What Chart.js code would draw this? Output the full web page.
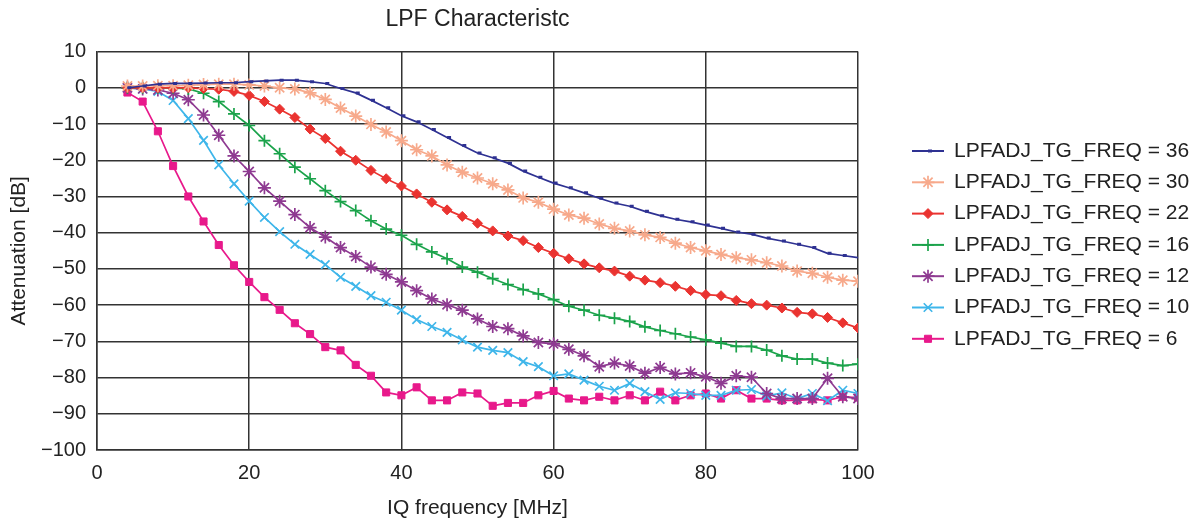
<!DOCTYPE html>
<html>
<head>
<meta charset="utf-8">
<script src="https://cdn.jsdelivr.net/npm/chart.js@4/dist/chart.umd.min.js"></script>
<style>
  html, body { margin: 0; padding: 0; background: #fff; }
  #wrap { width: 1201px; height: 527px; }
</style>
</head>
<body>
<div id="wrap"><canvas id="lpfChart"></canvas></div>
<script>
// IQ frequency [MHz], one sample every 2 MHz
var freqs = [4, 6, 8, 10, 12, 14, 16, 18, 20, 22, 24, 26, 28, 30, 32, 34, 36, 38, 40, 42, 44, 46, 48, 50,
    52, 54, 56, 58, 60, 62, 64, 66, 68, 70, 72, 74, 76, 78, 80, 82, 84, 86, 88, 90, 92, 94, 96, 98, 100];

// attenuation [dB] per LPFADJ_TG_FREQ setting
var freq36 = [0, 0.5, 1, 1.2, 1.2, 1.3, 1.4, 1.4, 1.7, 1.9, 2.1, 2.1, 1.7, 1.2, -0.2, -1.4, -3.4, -5.5, -7.7, -9.4,
    -11.5, -13.7, -15.9, -18, -19.3, -20.8, -23, -24.7, -26.3, -27.6, -29, -30.5, -31.8, -32.7, -34.1, -35.3,
    -36.3, -37, -37.9, -38.8, -39.8, -40.4, -41.5, -42.3, -43.2, -44.1, -45.7, -46.3, -46.9];
var freq30 = [0.5, 0.5, 0.6, 0.6, 0.7, 0.9, 1, 1, 0.8, 0.5, 0, -0.3, -1.4, -3.2, -5.6, -7.8, -10.1, -12.2, -14.6,
    -17.1, -18.8, -21.3, -23.3, -24.9, -26.5, -28.2, -30.4, -31.6, -33.5, -35.1, -36, -37.6, -38.8, -39.5, -40.6,
    -41.3, -42.9, -44.1, -45, -46, -46.9, -47.5, -48.3, -49.2, -50.6, -51.2, -52.3, -53.1, -53.4];
var freq22 = [0, 0, 0, 0, 0, -0.2, -0.4, -1, -2.1, -3.8, -5.9, -8.2, -11.4, -14, -17.5, -20, -22.8, -25.1, -27.1,
    -29.3, -31.6, -33.7, -35.5, -37.4, -39.5, -40.9, -42.2, -44.1, -45.7, -47.2, -48.6, -49.7, -50.6, -52, -53.1,
    -53.8, -54.8, -56, -57.1, -57.4, -58.7, -59.6, -60, -60.8, -62, -62.4, -63.4, -64.9, -66.3];
var freq16 = [0, 0, 0, 0, -0.3, -1.5, -3.8, -7.2, -10.4, -14.6, -18.2, -21.9, -25.1, -28.4, -31.4, -33.9, -36.7,
    -39, -40.7, -43.2, -45.3, -47.2, -49.5, -50.9, -52.7, -54.3, -55.7, -56.9, -58.5, -60.3, -61.4, -62.8, -63.6,
    -64.5, -66, -67, -67.9, -68.8, -69.6, -70.5, -71.4, -71.4, -72.4, -74, -74.9, -74.9, -76, -76.7, -76.3];
var freq12 = [0, -0.3, -0.6, -1.5, -3.3, -7.5, -13.1, -18.8, -23.1, -27.6, -31.3, -35, -38.6, -41.2, -44.1, -46.6,
    -49.5, -51.5, -53.6, -56, -58.3, -59.9, -61.4, -63.8, -65.9, -66.5, -68.5, -70.3, -70.7, -72.2, -74, -77, -76,
    -76.8, -78.8, -77.2, -79, -78.7, -79.8, -81.6, -79.5, -79.9, -84.4, -85.8, -85.8, -85.8, -80.2, -85.3, -85.8];
var freq10 = [0, -0.3, -1, -3.5, -8.5, -14.5, -21.3, -26.5, -31.3, -35.8, -39.7, -43.2, -46, -48.8, -52.3, -54.8,
    -57.4, -59.2, -61.4, -64, -65.9, -67.5, -69.6, -71.6, -72.5, -73.1, -75.6, -77, -79.5, -79, -80.7, -82.4, -83.5,
    -81.6, -83.9, -86, -84.2, -84.4, -84.9, -84.9, -83.5, -83.3, -85.1, -84.2, -85.8, -84.4, -86.4, -83.5, -84.4];
var freq6 = [-1.3, -3.8, -12, -21.6, -30, -36.9, -43.4, -49, -53.6, -57.8, -61.3, -65, -68, -71.6, -72.5, -76.5,
    -79.5, -84.1, -84.9, -82.7, -86.3, -86.3, -84.1, -84.4, -87.8, -87, -87, -84.9, -83.7, -85.8, -86.3, -85.3,
    -86.3, -84.9, -86.3, -83.9, -86.3, -84.9, -84.4, -85.8, -83.5, -85.8, -85.8, -86.3, -86.3, -86, -86.3, -85.3, -85.5];

var seriesNames = ['LPFADJ_TG_FREQ = 36', 'LPFADJ_TG_FREQ = 30', 'LPFADJ_TG_FREQ = 22', 'LPFADJ_TG_FREQ = 16',
    'LPFADJ_TG_FREQ = 12', 'LPFADJ_TG_FREQ = 10', 'LPFADJ_TG_FREQ = 6'];
var xTicks = [0, 20, 40, 60, 80, 100];
var yTicks = [10, 0, -10, -20, -30, -40, -50, -60, -70, -80, -90, -100];

var FONT = 'Liberation Sans, Arial, sans-serif';

function pairs(values) {
    return values.map(function (v, i) { return { x: freqs[i], y: v }; });
}

function series(label, values, color, style, radius, width) {
    return {
        label: label,
        data: pairs(values),
        borderColor: color,
        backgroundColor: color,
        borderWidth: 1.7,
        pointStyle: style,
        pointRadius: radius,
        pointBorderWidth: width,
        pointHoverRadius: radius,
        tension: 0
    };
}

var datasets = [
    series(seriesNames[0], freq36, '#2e3192', 'dash', 4, 3),
    series(seriesNames[1], freq30, '#f7a98b', 'star', 6.5, 1.7),
    series(seriesNames[2], freq22, '#ea3330', 'rectRot', 5, 1),
    series(seriesNames[3], freq16, '#1ba34b', 'cross', 6, 1.7),
    series(seriesNames[4], freq12, '#8e3a91', 'star', 6.5, 1.7),
    series(seriesNames[5], freq10, '#3fb6ea', 'crossRot', 6, 1.7),
    series(seriesNames[6], freq6, '#e8198b', 'rect', 5, 1)
];

// legend with line + marker drawn on the right side
var sideLegend = {
    id: 'sideLegend',
    afterDraw: function (chart) {
        var ctx = chart.ctx;
        var x0 = 912, x1 = 944, tx = 954, y = 151, step = 31.3;
        ctx.save();
        chart.data.datasets.forEach(function (ds) {
            ctx.strokeStyle = ds.borderColor;
            ctx.fillStyle = ds.backgroundColor;
            ctx.lineWidth = 2;
            ctx.beginPath();
            ctx.moveTo(x0, y);
            ctx.lineTo(x1, y);
            ctx.stroke();
            ctx.lineWidth = ds.pointBorderWidth;
            Chart.helpers.drawPoint(ctx, {
                pointStyle: ds.pointStyle,
                radius: ds.pointRadius,
                rotation: 0,
                borderWidth: ds.pointBorderWidth
            }, (x0 + x1) / 2, y);
            ctx.fillStyle = '#222';
            ctx.font = '21px ' + FONT;
            ctx.textAlign = 'left';
            ctx.textBaseline = 'middle';
            ctx.fillText(ds.label, tx, y);
            y += step;
        });
        ctx.restore();
    }
};

var ctx = document.getElementById('lpfChart').getContext('2d');

var chart = new Chart(ctx, {
    type: 'line',
    data: { datasets: datasets },
    plugins: [sideLegend],
    options: {
        responsive: true,
        maintainAspectRatio: false,
        animation: false,
        layout: { padding: { left: 0, right: 343, top: 0, bottom: 0 } },
        plugins: {
            legend: { display: false },
            tooltip: { enabled: false },
            title: {
                display: true,
                fullSize: false,
                text: 'LPF Characteristc',
                color: '#222',
                font: { family: FONT, size: 23, weight: 'normal' },
                padding: { top: 6, bottom: 18 }
            }
        },
        scales: {
            x: {
                type: 'linear',
                min: 0,
                max: 100,
                afterBuildTicks: function (scale) {
                    scale.ticks = xTicks.map(function (v) { return { value: v }; });
                },
                afterFit: function (scale) { scale.height = 77; },
                grid: { color: '#333', lineWidth: 1.5, drawTicks: false },
                border: { color: '#333', width: 1.5 },
                ticks: { color: '#222', padding: 11, font: { family: FONT, size: 20 } },
                title: {
                    display: true,
                    text: 'IQ frequency [MHz]',
                    color: '#222',
                    font: { family: FONT, size: 21 },
                    padding: { top: 7, bottom: 6 }
                }
            },
            y: {
                type: 'linear',
                min: -100,
                max: 10,
                afterBuildTicks: function (scale) {
                    scale.ticks = yTicks.map(function (v) { return { value: v }; });
                },
                afterFit: function (scale) { scale.width = 97; },
                grid: { color: '#333', lineWidth: 1.5, drawTicks: false },
                border: { color: '#333', width: 1.5 },
                ticks: {
                    color: '#222',
                    padding: 11,
                    font: { family: FONT, size: 20 },
                    callback: function (v) { return v < 0 ? '\u2212' + Math.abs(v) : String(v); }
                },
                title: {
                    display: true,
                    text: 'Attenuation [dB]',
                    color: '#222',
                    font: { family: FONT, size: 21 },
                    padding: { top: 7, bottom: 7 }
                }
            }
        }
    }
});
</script>
</body>
</html>
